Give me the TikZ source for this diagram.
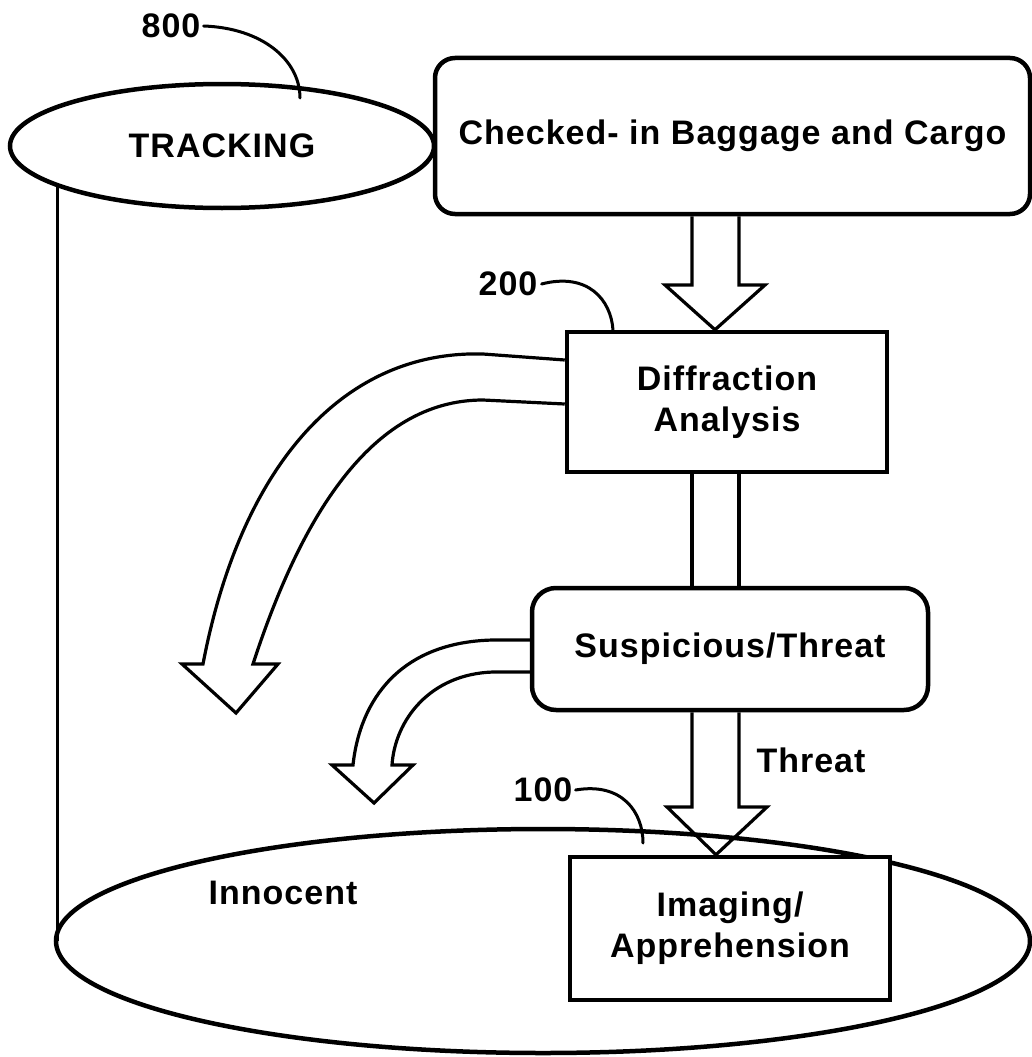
\documentclass[tikz,border=0pt]{standalone}
\usepackage{fontspec}
\setmainfont{Liberation Sans}[LetterSpace=3]
\usetikzlibrary{shapes.geometric,calc}
\begin{document}
\begin{tikzpicture}[x=1pt,y=-1pt,
  lbl/.style={font=\bfseries\fontsize{34}{41}\selectfont, inner sep=0pt, align=center},
  boxnode/.style={draw, line width=4.5pt, fill=white, lbl},
  ellnode/.style={ellipse, draw, line width=4.5pt, lbl},
  arr/.style={draw, line width=3.2pt, line join=miter},
  lead/.style={line width=3pt, line cap=round}]
\useasboundingbox (0,0) rectangle (1032,1057);

% bottom ellipse (Innocent) and tracking ellipse
\node[ellnode, minimum width=974, minimum height=224] (bot) at (543,941) {};
\node[lbl] (innocent) at (283,893) {Innocent};
\node[ellnode, minimum width=424, minimum height=124] (track) at (222,146) {TRACKING};

% boxes
\node[boxnode, rounded corners=20pt, minimum width=595, minimum height=156] (checked) at (732.5,136) {Checked- in Baggage and Cargo};
\node[boxnode, minimum width=320, minimum height=140] (diff) at (727,402) {Diffraction\\Analysis};
\node[boxnode, rounded corners=24pt, minimum width=396, minimum height=122] (sus) at (730,649) {Suspicious/Threat};
\node[boxnode, minimum width=320, minimum height=143] (img) at (730,928.5) {Imaging/\\Apprehension};

% reference numerals
\node[lbl] (n800) at (171,26) {800};
\node[lbl] (n200) at (508,284) {200};
\node[lbl] (n100) at (543,790) {100};
\node[lbl] (threatlbl) at (811,760) {Threat};

\coordinate (p800) at (300,98);
\coordinate (p200) at (613,330);
\coordinate (p100) at (643,843);
\draw[lead] ([xshift=3pt]n800.east) .. controls (262,28) and (300,60) .. (p800);
\draw[lead] ([xshift=4pt]n200.east) .. controls (588,272) and (611,300) .. (p200);
\draw[lead] ([xshift=3pt]n100.east) .. controls (622,782) and (643,812) .. (p100);

% tracking line down to bottom ellipse
\coordinate (tfoot) at ($(track.center)+(-165,39)$);
\draw[line width=3pt] (tfoot) -- (tfoot |- bot.west);

% Checked-in -> Diffraction arrow
\draw[arr] (692,0 |- checked.south) -- (692,285) -- (665,285) -- (715,0 |- diff.north) -- (765,285) -- (739,285) -- (739,0 |- checked.south);

% Diffraction -> Suspicious
\draw[line width=3.2pt] (692,0 |- diff.south) -- (692,0 |- sus.north);
\draw[line width=3.2pt] (739,0 |- diff.south) -- (739,0 |- sus.north);

% Suspicious -> Imaging (Threat)
\draw[arr] (692,0 |- sus.south) -- (692,807) -- (667,807) -- (716,0 |- img.north) -- (767,807) -- (739,807) -- (739,0 |- sus.south);

% curved arrow from Diffraction (innocent)
\draw[arr] (diff.west |- 0,360) -- (483,354) .. controls (340,350) and (240,470) .. (203,664)
  -- (182,664) -- (236,713) -- (278,664) -- (253,664)
  .. controls (300,520) and (370,400) .. (483,400) -- (diff.west |- 0,404);

% curved arrow from Suspicious (innocent)
\draw[arr] (sus.west |- 0,640) -- (493,640) .. controls (400,642) and (360,700) .. (353,765)
  -- (332,765) -- (374,803) -- (413,765) -- (392,765)
  .. controls (395,720) and (430,674) .. (493,672) -- (sus.west |- 0,672);
\end{tikzpicture}
\end{document}
